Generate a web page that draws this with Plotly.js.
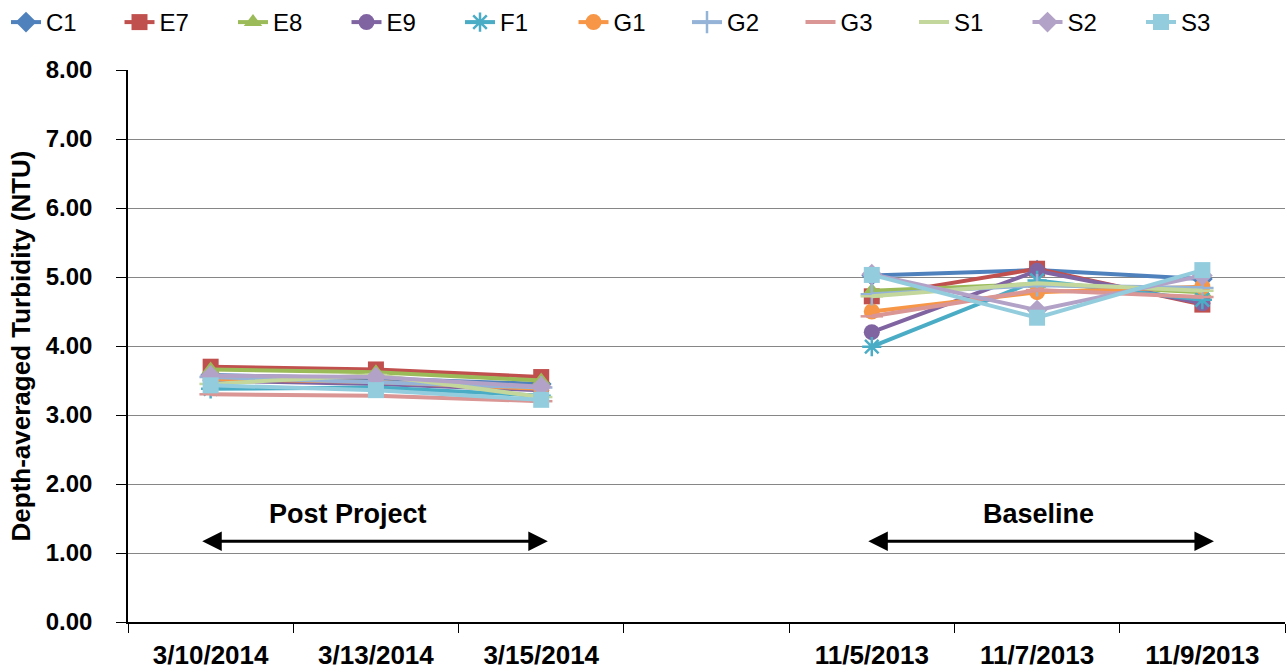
<!DOCTYPE html>
<html><head><meta charset="utf-8">
<script src="https://cdn.plot.ly/plotly-3.0.1.min.js"></script>
<style>body{margin:0;background:#fff}#chart{width:1287px;height:670px}</style>
</head><body><div id="chart"></div>
<script>
const categories = ["3/10/2014","3/13/2014","3/15/2014"," ","11/5/2013","11/7/2013","11/9/2013"];
const C1 = [3.58,3.53,3.45,null,5.02,5.10,4.97];
const E7 = [3.70,3.66,3.55,null,4.72,5.12,4.60];
const E8 = [3.66,3.62,3.50,null,4.80,4.90,4.78];
const E9 = [3.50,3.45,3.36,null,4.20,5.09,4.62];
const F1 = [3.38,3.40,3.28,null,3.99,4.95,4.67];
const G1 = [3.52,3.48,3.38,null,4.50,4.78,4.86];
const G2 = [3.55,3.48,3.40,null,4.75,4.88,4.84];
const G3 = [3.30,3.28,3.20,null,4.43,4.81,4.71];
const S1 = [3.45,3.58,3.26,null,4.72,4.91,4.80];
const S2 = [3.57,3.55,3.41,null,5.04,4.52,5.02];
const S3 = [3.43,3.36,3.22,null,5.03,4.41,5.10];
const seriesNames = ["C1","E7","E8","E9","F1","G1","G2","G3","S1","S2","S3"];
const seriesValues = [C1,E7,E8,E9,F1,G1,G2,G3,S1,S2,S3];
const colors = ["#4F81BD","#C0504D","#9BBB59","#8064A2","#4BACC6","#F79646","#95B3D7","#D99694","#C3D69B","#B3A2C7","#93CDDD"];
const symbols = ["diamond","square","triangle-up","circle","asterisk-open","circle","cross-thin-open","line-ew-open","line-ew-open","diamond","square"];

const font = "Liberation Sans, Arial, sans-serif";
const traces = seriesNames.map((n,i)=>({
  type:"scatter", mode:"lines+markers", name:n, x:categories, y:seriesValues[i],
  connectgaps:false, legend:(i<7?"legend":"legend2"),
  line:{color:colors[i], width:4},
  marker:{symbol:symbols[i], size:16, color:colors[i],
    line:{color:colors[i], width:(symbols[i].indexOf("open")>=0?2.5:0)}}
}));

const legendBase = {orientation:"h", xref:"container", yref:"container", xanchor:"left", y:1, yanchor:"top",
    font:{family:font, size:24, color:"#000"}, entrywidth:68.5, entrywidthmode:"pixels", tracegroupgap:0, bgcolor:"rgba(0,0,0,0)"};

const layout = {
  width:1287, height:670,
  margin:{l:128, r:2, t:70, b:48},
  paper_bgcolor:"#fff", plot_bgcolor:"#fff",
  showlegend:true,
  legend:Object.assign({}, legendBase, {x:6/1287}),
  legend2:Object.assign({}, legendBase, {x:800.5/1287}),
  xaxis:{type:"category", categoryorder:"array", categoryarray:categories, range:[-0.5,6.5],
    tickson:"boundaries", ticks:"outside", ticklen:9, tickcolor:"#000", tickwidth:1,
    showline:true, linecolor:"#000", linewidth:1.5, showgrid:false, zeroline:false,
    tickfont:{family:font, size:26, color:"#000", weight:"bold"}, ticklabelstandoff:9},
  yaxis:{range:[0,8], dtick:1, tickformat:".2f", ticks:"outside", ticklen:10, tickcolor:"#000",
    showline:true, linecolor:"#000", linewidth:1.5, showgrid:true, gridcolor:"#868686", gridwidth:1,
    zeroline:false, tickfont:{family:font, size:24, color:"#000", weight:"bold"}, ticklabelstandoff:19,
    title:{text:"Depth-averaged Turbidity (NTU)", font:{family:font, size:26, color:"#000", weight:"bold"}, standoff:8}},
  annotations:[
    {x:0.83, y:1.57, xref:"x", yref:"y", text:"Post Project", showarrow:false, font:{family:font, size:27, color:"#000", weight:"bold"}},
    {x:5.01, y:1.57, xref:"x", yref:"y", text:"Baseline", showarrow:false, font:{family:font, size:27, color:"#000", weight:"bold"}},
    {x:2.04, y:1.17, ax:-0.06, ay:1.17, xref:"x", yref:"y", axref:"x", ayref:"y", text:"", showarrow:true,
      arrowside:"end+start", arrowhead:2, arrowsize:1.3, arrowwidth:3, arrowcolor:"#000"},
    {x:6.07, y:1.17, ax:3.97, ay:1.17, xref:"x", yref:"y", axref:"x", ayref:"y", text:"", showarrow:true,
      arrowside:"end+start", arrowhead:2, arrowsize:1.3, arrowwidth:3, arrowcolor:"#000"}
  ]
};
Plotly.newPlot("chart", traces, layout, {displayModeBar:false});
</script></body></html>
